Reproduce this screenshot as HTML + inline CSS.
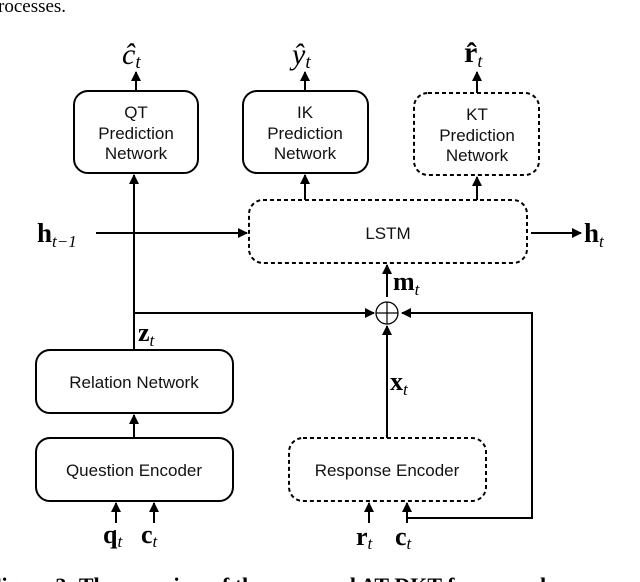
<!DOCTYPE html>
<html><head><style>
html,body{margin:0;padding:0;background:#fff;width:640px;height:582px;overflow:hidden}
svg{display:block}
.b{font-family:"Liberation Sans",sans-serif;font-size:17px;fill:#111;text-anchor:middle}
.m{font-family:"Liberation Serif",serif;fill:#000}
</style></head><body>
<svg width="640" height="582" viewBox="0 0 640 582" xmlns="http://www.w3.org/2000/svg">
<defs><marker id="a" viewBox="0 0 10 10" refX="9" refY="5" markerWidth="5" markerHeight="5" orient="auto"><path d="M0,0L10,5L0,10z" fill="#000"/></marker></defs>
<text x="-2" y="12" class="m" font-size="19">rocesses.</text>
<g fill="none" stroke="#000" stroke-width="2">
<rect x="74" y="91" width="124" height="82" rx="14"/>
<rect x="243" y="91" width="125" height="82" rx="14"/>
<rect x="414" y="93" width="125" height="82" rx="14" stroke-dasharray="4,3"/>
<rect x="249" y="200" width="278" height="63" rx="14" stroke-dasharray="4,3"/>
<rect x="36" y="350" width="197" height="63" rx="14"/>
<rect x="36" y="438" width="197" height="63" rx="14"/>
<rect x="289" y="438" width="197" height="63" rx="14" stroke-dasharray="4,3"/>
<ellipse cx="387" cy="313" rx="11" ry="11" stroke-width="1.3"/>
<line x1="376" y1="313" x2="398" y2="313" stroke-width="1.2"/>
<line x1="387" y1="302" x2="387" y2="324" stroke-width="1.2"/>
<g marker-end="url(#a)">
<line x1="136" y1="91" x2="136" y2="72"/>
<line x1="305" y1="91" x2="305" y2="72"/>
<line x1="477" y1="93" x2="477" y2="72"/>
<line x1="134" y1="350" x2="134" y2="175"/>
<line x1="305" y1="200" x2="305" y2="175"/>
<line x1="477" y1="200" x2="477" y2="177"/>
<line x1="96" y1="233" x2="247" y2="233"/>
<line x1="531" y1="233" x2="581" y2="233"/>
<line x1="387" y1="297" x2="387" y2="265"/>
<line x1="134" y1="313" x2="374" y2="313"/>
<line x1="387" y1="438" x2="387" y2="326"/>
<line x1="134" y1="438" x2="134" y2="415"/>
<line x1="116" y1="523" x2="116" y2="503"/>
<line x1="154" y1="523" x2="154" y2="503"/>
<line x1="369" y1="523" x2="369" y2="503"/>
</g>
<polyline points="407,523 407,518 532,518 532,313 402,313" marker-end="url(#a)"/>
<line x1="407" y1="518" x2="407" y2="503" marker-end="url(#a)"/>
</g>
<text class="b" x="136" y="118">QT</text><text class="b" x="136" y="139">Prediction</text><text class="b" x="136" y="159">Network</text>
<text class="b" x="305" y="118">IK</text><text class="b" x="305" y="139">Prediction</text><text class="b" x="305" y="159">Network</text>
<text class="b" x="477" y="120">KT</text><text class="b" x="477" y="141">Prediction</text><text class="b" x="477" y="161">Network</text>
<text class="b" x="388" y="239" font-size="15">LSTM</text>
<text class="b" x="134" y="388">Relation Network</text>
<text class="b" x="134" y="476">Question Encoder</text>
<text class="b" x="387" y="476">Response Encoder</text>
<g class="m">
<text x="122" y="64" font-size="30" font-style="italic">ĉ<tspan font-size="19" dy="4">t</tspan></text>
<text x="292" y="64" font-size="30" font-style="italic">ŷ<tspan font-size="19" dy="4">t</tspan></text>
<text x="464" y="62" font-size="30" font-weight="bold">r̂<tspan font-size="18" dy="5" font-weight="normal" font-style="italic">t</tspan></text>
<text x="37" y="242" font-size="27" font-weight="bold">h<tspan font-size="17" dy="5" font-weight="normal" font-style="italic">t−1</tspan></text>
<text x="584" y="242" font-size="27" font-weight="bold">h<tspan font-size="17" dy="5" font-weight="normal" font-style="italic">t</tspan></text>
<text x="393" y="290" font-size="26" font-weight="bold">m<tspan font-size="17" dy="5" font-weight="normal" font-style="italic">t</tspan></text>
<text x="138" y="341" font-size="26" font-weight="bold">z<tspan font-size="17" dy="5" font-weight="normal" font-style="italic">t</tspan></text>
<text x="390" y="390" font-size="26" font-weight="bold">x<tspan font-size="17" dy="5" font-weight="normal" font-style="italic">t</tspan></text>
<text x="103" y="543" font-size="26" font-weight="bold">q<tspan font-size="17" dy="4" font-weight="normal" font-style="italic">t</tspan></text>
<text x="141" y="543" font-size="26" font-weight="bold">c<tspan font-size="17" dy="4" font-weight="normal" font-style="italic">t</tspan></text>
<text x="356" y="545" font-size="26" font-weight="bold">r<tspan font-size="17" dy="4" font-weight="normal" font-style="italic">t</tspan></text>
<text x="395" y="545" font-size="26" font-weight="bold">c<tspan font-size="17" dy="4" font-weight="normal" font-style="italic">t</tspan></text>
<text x="-12" y="593" font-size="22" font-weight="bold">Figure 3: The overview of the proposed AT-DKT framework</text>
</g>
</svg>
</body></html>
